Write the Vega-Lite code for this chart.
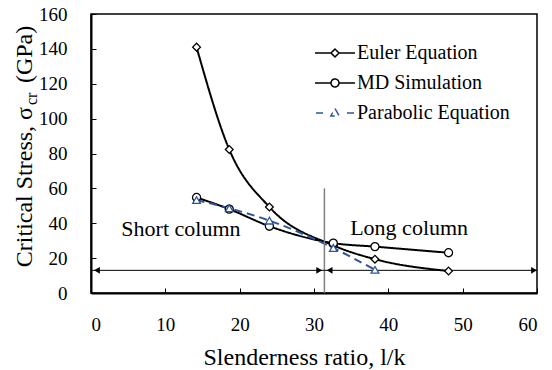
{
  "$schema": "https://vega.github.io/schema/vega-lite/v6.json",
  "width": 446,
  "height": 279,
  "autosize": {"type": "none"},
  "padding": {"left": 91, "top": 14, "right": 15, "bottom": 77},
  "background": "white",
  "config": {
    "font": "Liberation Serif",
    "view": {"stroke": "black", "strokeWidth": 1.5},
    "style": {
      "guide-label": {"font": "'Liberation Serif', serif"}
    },
    "axis": {
      "grid": false,
      "domainColor": "black",
      "domainWidth": 2,
      "tickColor": "black",
      "tickWidth": 1,
      "tickSize": -5,
      "labelFont": "'Liberation Serif', serif",
      "labelFontSize": 19,
      "labelColor": "black",
      "labelOverlap": false,
      "titleFont": "Liberation Serif",
      "titleFontSize": 24,
      "titleFontWeight": "normal",
      "titleColor": "black"
    }
  },
  "datasets": {
    "curves": [
      {"series": "Euler Equation", "x": 14.2, "y": 141.0},
      {"series": "Euler Equation", "x": 18.6, "y": 82.3},
      {"series": "Euler Equation", "x": 24.0, "y": 49.3},
      {"series": "Euler Equation", "x": 32.6, "y": 27.3},
      {"series": "Euler Equation", "x": 38.2, "y": 19.4},
      {"series": "Euler Equation", "x": 48.1, "y": 12.6},
      {"series": "MD Simulation", "x": 14.2, "y": 54.8},
      {"series": "MD Simulation", "x": 18.6, "y": 48.1},
      {"series": "MD Simulation", "x": 24.0, "y": 38.3},
      {"series": "MD Simulation", "x": 32.6, "y": 28.6},
      {"series": "MD Simulation", "x": 38.2, "y": 26.6},
      {"series": "MD Simulation", "x": 48.1, "y": 23.1},
      {"series": "Parabolic Equation", "x": 14.2, "y": 53.3},
      {"series": "Parabolic Equation", "x": 18.6, "y": 48.6},
      {"series": "Parabolic Equation", "x": 24.0, "y": 41.5},
      {"series": "Parabolic Equation", "x": 32.6, "y": 25.8},
      {"series": "Parabolic Equation", "x": 38.2, "y": 13.3}
    ],
    "divider": [
      {"x": 31.4, "y": 0, "y2": 60}
    ],
    "spans": [
      {"region": "Short column", "x": 0, "x2": 31.4, "y": 13},
      {"region": "Long column", "x": 31.4, "x2": 60, "y": 13}
    ],
    "heads": [
      {"dir": "left", "x": 0.8, "y": 13},
      {"dir": "right", "x": 30.7, "y": 13},
      {"dir": "left", "x": 32.1, "y": 13},
      {"dir": "right", "x": 59.6, "y": 13}
    ],
    "notes": [
      {"label": "Short column", "x": 12.1, "y": 32.5},
      {"label": "Long column", "x": 42.8, "y": 33.2}
    ]
  },
  "layer": [
    {
      "encoding": {
        "x": {
          "field": "x",
          "type": "quantitative",
          "scale": {"domain": [0, 60], "nice": false, "zero": false},
          "axis": {
            "values": [0, 10, 20, 30, 40, 50, 60],
            "title": "Slenderness ratio, l/k",
            "labelFont": "'Liberation Serif', serif",
            "labelFontSize": 19,
            "labelOverlap": false,
            "labelPadding": 27,
            "titleX": 213,
            "titleY": 71,
            "titleBaseline": "alphabetic",
            "titleAnchor": "middle",
            "encode": {"labels": {"update": {"font": {"value": "'Liberation Serif', serif"}}}}
          }
        },
        "y": {
          "field": "y",
          "type": "quantitative",
          "scale": {"domain": [0, 160], "nice": false, "zero": false},
          "axis": {
            "values": [0, 20, 40, 60, 80, 100, 120, 140, 160],
            "title": null,
            "labelFont": "'Liberation Serif', serif",
            "labelFontSize": 19,
            "labelOverlap": false,
            "labelPadding": 29,
            "encode": {"labels": {"update": {"font": {"value": "'Liberation Serif', serif"}}}}
          }
        }
      },
      "layer": [
        {
          "data": {"name": "curves"},
          "mark": {"type": "line", "interpolate": "monotone", "strokeWidth": 2},
          "encoding": {
            "color": {
              "field": "series",
              "type": "nominal",
              "scale": {
                "domain": ["Euler Equation", "MD Simulation", "Parabolic Equation"],
                "range": ["black", "black", "#2E5597"]
              },
              "legend": {
                "title": null,
                "orient": "none",
                "legendX": 233,
                "legendY": 28,
                "padding": 0,
                "labelFont": "'Liberation Serif', serif",
                "labelFontSize": 20,
                "labelColor": "black",
                "labelLimit": 300,
                "labelOffset": 11,
                "symbolSize": 400,
                "symbolStrokeWidth": 1.5,
                "rowPadding": 9,
                "encode": {
                  "symbols": {
                    "update": {
                      "shape": {"signal": "datum.value === 'Euler Equation' ? 'M-2,0H-0.4M0.4,0H2M0,-0.4L0.4,0L0,0.4L-0.4,0Z' : datum.value === 'MD Simulation' ? 'M-2,0H-0.4M0.4,0H2M0.4,0A0.4,0.4,0,1,1,-0.4,0A0.4,0.4,0,1,1,0.4,0Z' : 'M-1.9,0H-1.2M1.2,0H1.9M0,-0.45L0.42,0.3L-0.42,0.3Z'"},
                      "fill": {"value": "white"},
                      "fillOpacity": {"value": 1},
                      "stroke": {"signal": "datum.value === 'Parabolic Equation' ? '#2E5597' : 'black'"},
                      "strokeWidth": {"value": 1.5},
                      "strokeDash": {"value": [1, 0]},
                      "opacity": {"value": 1}
                    }
                  }
                }
              }
            },
            "strokeDash": {
              "field": "series",
              "type": "nominal",
              "scale": {
                "domain": ["Euler Equation", "MD Simulation", "Parabolic Equation"],
                "range": [[1, 0], [1, 0], [8, 5]]
              },
              "legend": null
            }
          }
        },
        {
          "data": {"name": "divider"},
          "mark": {"type": "rule", "color": "#808080", "strokeWidth": 1.5},
          "encoding": {"y2": {"field": "y2"}}
        },
        {
          "data": {"name": "spans"},
          "mark": {"type": "rule", "color": "black", "strokeWidth": 1},
          "encoding": {"x2": {"field": "x2"}}
        },
        {
          "data": {"name": "heads"},
          "transform": [{"filter": "datum.dir === 'left'"}],
          "mark": {"type": "point", "shape": "triangle-left", "filled": true, "color": "black", "size": 45, "opacity": 1}
        },
        {
          "data": {"name": "heads"},
          "transform": [{"filter": "datum.dir === 'right'"}],
          "mark": {"type": "point", "shape": "triangle-right", "filled": true, "color": "black", "size": 45, "opacity": 1}
        },
        {
          "data": {"name": "curves"},
          "transform": [{"filter": "datum.series === 'Euler Equation'"}],
          "mark": {"type": "point", "shape": "diamond", "filled": false, "fill": "white", "fillOpacity": 1, "strokeWidth": 1.3, "size": 60, "opacity": 1},
          "encoding": {"color": {"field": "series", "type": "nominal"}}
        },
        {
          "data": {"name": "curves"},
          "transform": [{"filter": "datum.series === 'MD Simulation'"}],
          "mark": {"type": "point", "shape": "circle", "filled": false, "fill": "white", "fillOpacity": 1, "strokeWidth": 1.3, "size": 65, "opacity": 1},
          "encoding": {"color": {"field": "series", "type": "nominal"}}
        },
        {
          "data": {"name": "curves"},
          "transform": [{"filter": "datum.series === 'Parabolic Equation'"}],
          "mark": {"type": "point", "shape": "triangle-up", "filled": false, "fill": "white", "fillOpacity": 1, "strokeWidth": 1.3, "size": 60, "opacity": 1},
          "encoding": {"color": {"field": "series", "type": "nominal"}}
        },
        {
          "data": {"name": "notes"},
          "mark": {"type": "text", "fontSize": 22, "align": "center", "baseline": "alphabetic", "color": "black"},
          "encoding": {"text": {"field": "label"}}
        }
      ]
    },
    {
      "data": {"values": [{}]},
      "mark": {"type": "text", "text": "Critical Stress, σ", "fontSize": 24, "angle": 270, "align": "right", "baseline": "alphabetic", "color": "black"},
      "encoding": {
        "x": {"datum": -7.87, "type": "quantitative", "axis": {"values": [0, 10, 20, 30, 40, 50, 60], "labelOverlap": false, "labelFont": "'Liberation Serif', serif", "labelFontSize": 19, "labelPadding": 27}},
        "y": {"datum": 106.7, "type": "quantitative", "axis": {"values": [0, 20, 40, 60, 80, 100, 120, 140, 160], "labelOverlap": false, "labelFont": "'Liberation Serif', serif", "labelFontSize": 19, "labelPadding": 29}}
      }
    },
    {
      "data": {"values": [{}]},
      "mark": {"type": "text", "text": "cr", "fontSize": 16, "angle": 270, "align": "left", "baseline": "alphabetic", "color": "black"},
      "encoding": {
        "x": {"datum": -7.2, "type": "quantitative", "axis": {"values": [0, 10, 20, 30, 40, 50, 60], "labelOverlap": false, "labelFont": "'Liberation Serif', serif", "labelFontSize": 19, "labelPadding": 27}},
        "y": {"datum": 107.8, "type": "quantitative", "axis": {"values": [0, 20, 40, 60, 80, 100, 120, 140, 160], "labelOverlap": false, "labelFont": "'Liberation Serif', serif", "labelFontSize": 19, "labelPadding": 29}}
      }
    },
    {
      "data": {"values": [{}]},
      "mark": {"type": "text", "text": "(GPa)", "fontSize": 24, "angle": 270, "align": "left", "baseline": "alphabetic", "color": "black"},
      "encoding": {
        "x": {"datum": -7.87, "type": "quantitative", "axis": {"values": [0, 10, 20, 30, 40, 50, 60], "labelOverlap": false, "labelFont": "'Liberation Serif', serif", "labelFontSize": 19, "labelPadding": 27}},
        "y": {"datum": 120.4, "type": "quantitative", "axis": {"values": [0, 20, 40, 60, 80, 100, 120, 140, 160], "labelOverlap": false, "labelFont": "'Liberation Serif', serif", "labelFontSize": 19, "labelPadding": 29}}
      }
    }
  ]
}
